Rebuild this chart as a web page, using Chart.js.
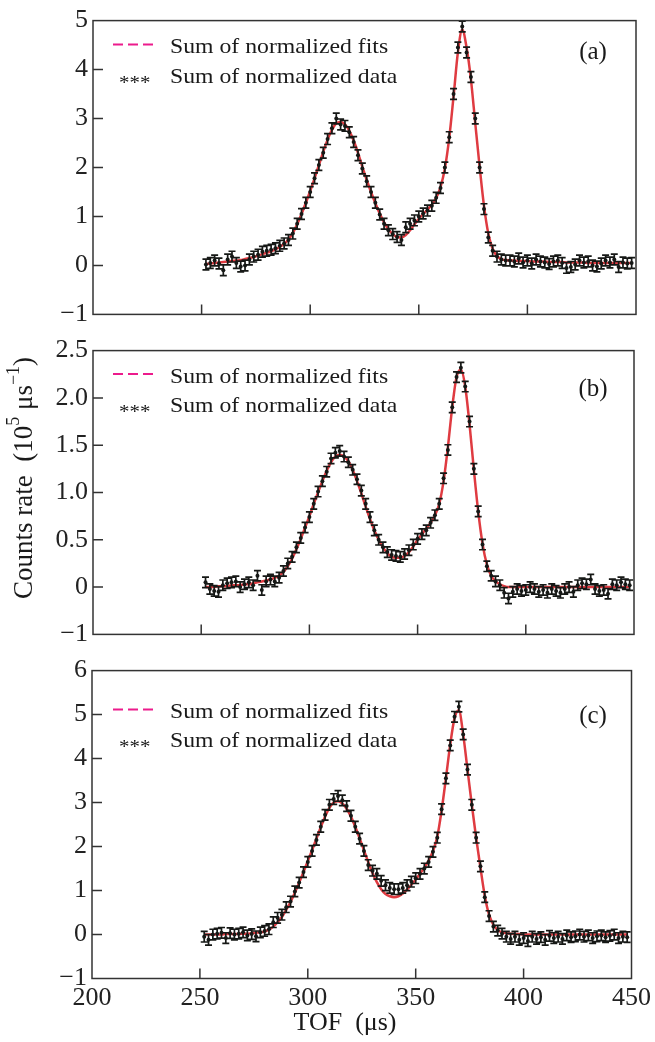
<!DOCTYPE html>
<html>
<head>
<meta charset="utf-8">
<title>TOF spectra</title>
<script src="https://cdn.jsdelivr.net/npm/chart.js@4.4.0/dist/chart.umd.min.js"></script>
<style>
    html, body { margin: 0; padding: 0; background: #fff; }
    body { width: 655px; height: 1042px; position: relative; overflow: hidden; }
    canvas { position: absolute; left: 0; }
</style>
</head>
<body>
<canvas id="chartA" width="655" height="335" style="top:0"></canvas>
<canvas id="chartB" width="655" height="325" style="top:330px"></canvas>
<canvas id="chartC" width="655" height="392" style="top:650px"></canvas>
<script>
// TOF channels (us)
const tof = [
    252, 254, 256, 258, 260, 262, 264, 266, 268, 270,
    272, 274, 276, 278, 280, 282, 284, 286, 288, 290,
    292, 294, 296, 298, 300, 302, 304, 306, 308, 310,
    312, 314, 316, 318, 320, 322, 324, 326, 328, 330,
    332, 334, 336, 338, 340, 342, 344, 346, 348, 350,
    352, 354, 356, 358, 360, 362, 364, 366, 368, 370,
    372, 374, 376, 378, 380, 382, 384, 386, 388, 390,
    392, 394, 396, 398, 400, 402, 404, 406, 408, 410,
    412, 414, 416, 418, 420, 422, 424, 426, 428, 430,
    432, 434, 436, 438, 440, 442, 444, 446, 448
];

// panel (a)
const countsA = [
    0.02, 0.05, 0.10, 0.04, -0.10, 0.12, 0.18, 0.05, -0.02, 0.00,
    0.12, 0.18, 0.22, 0.28, 0.30, 0.32, 0.35, 0.40, 0.45, 0.52,
    0.65, 0.85, 1.05, 1.28, 1.50, 1.78, 2.05, 2.30, 2.58, 2.80,
    3.00, 2.88, 2.85, 2.72, 2.52, 2.25, 1.98, 1.72, 1.50, 1.28,
    1.04, 0.85, 0.72, 0.64, 0.58, 0.52, 0.78, 0.85, 0.92, 1.00,
    1.06, 1.12, 1.22, 1.38, 1.58, 2.00, 2.62, 3.50, 4.45, 4.88,
    4.35, 3.85, 3.00, 2.00, 1.15, 0.57, 0.30, 0.18, 0.12, 0.10,
    0.10, 0.08, 0.14, 0.06, 0.10, 0.04, 0.12, 0.08, 0.06, 0.03,
    0.08, 0.10, 0.05, -0.05, -0.03, 0.02, 0.10, 0.06, 0.08, 0.00,
    -0.02, 0.04, 0.10, 0.06, 0.12, -0.03, 0.06, 0.04, 0.05
];
const fitA = [
    0.03, 0.04, 0.05, 0.06, 0.07, 0.08, 0.09, 0.10, 0.11, 0.13,
    0.15, 0.17, 0.20, 0.23, 0.26, 0.29, 0.33, 0.38, 0.44, 0.53,
    0.66, 0.84, 1.05, 1.28, 1.52, 1.78, 2.05, 2.32, 2.57, 2.77,
    2.90, 2.93, 2.88, 2.75, 2.55, 2.30, 2.02, 1.75, 1.50, 1.27,
    1.06, 0.88, 0.74, 0.64, 0.58, 0.57, 0.62, 0.72, 0.84, 0.95,
    1.05, 1.14, 1.24, 1.38, 1.60, 1.98, 2.60, 3.45, 4.35, 4.82,
    4.45, 3.80, 2.90, 2.02, 1.22, 0.65, 0.34, 0.19, 0.13, 0.11,
    0.10, 0.10, 0.09, 0.09, 0.09, 0.08, 0.08, 0.08, 0.08, 0.07,
    0.07, 0.07, 0.07, 0.06, 0.06, 0.06, 0.06, 0.06, 0.05, 0.05,
    0.05, 0.05, 0.05, 0.05, 0.05, 0.05, 0.05, 0.05, 0.05
];

// panel (b)
const countsB = [
    0.05, -0.02, -0.04, -0.05, 0.02, 0.04, 0.05, 0.06, 0.00, 0.03,
    0.05, 0.02, 0.12, -0.03, 0.06, 0.08, 0.06, 0.10, 0.17, 0.25,
    0.32, 0.42, 0.52, 0.63, 0.74, 0.88, 1.01, 1.12, 1.22, 1.36,
    1.42, 1.44, 1.38, 1.32, 1.24, 1.14, 1.02, 0.88, 0.74, 0.60,
    0.50, 0.42, 0.37, 0.34, 0.33, 0.32, 0.35, 0.39, 0.45, 0.51,
    0.56, 0.60, 0.68, 0.76, 0.88, 1.15, 1.45, 1.90, 2.22, 2.32,
    2.12, 1.75, 1.25, 0.80, 0.45, 0.22, 0.12, 0.06, 0.02, -0.06,
    -0.12, -0.05, -0.02, -0.04, -0.03, 0.00, -0.02, -0.05, -0.03, -0.06,
    -0.02, -0.04, -0.06, -0.02, 0.00, -0.05, 0.02, 0.04, 0.03, 0.08,
    -0.02, -0.04, -0.03, -0.07, 0.03, 0.02, 0.05, 0.03, 0.02
];
const fitB = [
    0.00, 0.00, 0.00, 0.01, 0.01, 0.01, 0.02, 0.02, 0.02, 0.03,
    0.03, 0.04, 0.05, 0.06, 0.07, 0.08, 0.10, 0.12, 0.16, 0.22,
    0.30, 0.40, 0.51, 0.63, 0.75, 0.88, 1.00, 1.12, 1.23, 1.32,
    1.38, 1.40, 1.38, 1.33, 1.24, 1.12, 0.99, 0.85, 0.72, 0.60,
    0.50, 0.42, 0.36, 0.32, 0.31, 0.31, 0.33, 0.37, 0.43, 0.50,
    0.56, 0.62, 0.68, 0.76, 0.88, 1.12, 1.48, 1.90, 2.22, 2.30,
    2.12, 1.72, 1.24, 0.80, 0.46, 0.24, 0.12, 0.06, 0.03, 0.01,
    0.00, 0.00, 0.00, 0.00, 0.00, 0.00, 0.00, 0.00, 0.00, 0.00,
    0.00, 0.00, 0.00, 0.00, 0.00, 0.00, 0.00, 0.00, 0.00, 0.00,
    0.00, 0.00, 0.00, 0.00, 0.00, 0.00, 0.00, 0.00, 0.00
];

// panel (c)
const countsC = [
    -0.05, -0.12, 0.00, 0.02, 0.04, -0.08, 0.03, 0.00, 0.02, 0.05,
    -0.02, 0.01, -0.04, 0.05, 0.08, 0.12, 0.28, 0.38, 0.45, 0.62,
    0.75, 0.98, 1.18, 1.42, 1.65, 1.90, 2.15, 2.45, 2.72, 2.95,
    3.08, 3.15, 3.05, 2.92, 2.70, 2.45, 2.18, 1.90, 1.58, 1.45,
    1.38, 1.22, 1.12, 1.06, 1.03, 1.03, 1.06, 1.12, 1.20, 1.28,
    1.38, 1.50, 1.65, 1.88, 2.20, 2.85, 3.55, 4.30, 4.95, 5.18,
    4.55, 3.75, 2.95, 2.20, 1.55, 0.85, 0.42, 0.18, 0.09, 0.02,
    -0.05, -0.10, -0.05, -0.12, -0.08, -0.15, -0.05, -0.10, -0.06, -0.12,
    -0.03, -0.08, -0.05, -0.10, -0.02, -0.06, -0.04, 0.00, -0.05, -0.02,
    -0.08, -0.04, -0.02, -0.06, -0.03, 0.00, -0.08, -0.05, -0.06
];
const fitC = [
    0.00, 0.00, 0.00, 0.00, 0.00, 0.01, 0.01, 0.01, 0.01, 0.02,
    0.02, 0.03, 0.04, 0.05, 0.07, 0.11, 0.18, 0.28, 0.40, 0.56,
    0.74, 0.95, 1.18, 1.42, 1.67, 1.92, 2.18, 2.44, 2.68, 2.88,
    3.00, 3.03, 2.98, 2.86, 2.68, 2.45, 2.19, 1.92, 1.65, 1.40,
    1.19, 1.03, 0.92, 0.87, 0.85, 0.87, 0.93, 1.02, 1.13, 1.25,
    1.38, 1.52, 1.68, 1.90, 2.22, 2.82, 3.55, 4.32, 4.92, 5.10,
    4.55, 3.75, 2.95, 2.20, 1.52, 0.88, 0.45, 0.22, 0.10, 0.05,
    0.03, 0.02, 0.01, 0.01, 0.00, 0.00, 0.00, 0.00, 0.00, 0.00,
    0.00, 0.00, 0.00, 0.00, 0.00, 0.00, 0.00, 0.00, 0.00, 0.00,
    0.00, 0.00, 0.00, 0.00, 0.00, 0.00, 0.00, 0.00, 0.00
];

// half-heights of the error bars
const errA = 0.11, errB = 0.055, errC = 0.12;

const yTicksA = ['\u22121', '0', '1', '2', '3', '4', '5'];
const yTicksB = ['\u22121', '0', '0.5', '1.0', '1.5', '2.0', '2.5'];   // bottom tick is printed as -1 in the original
const yTicksC = ['\u22121', '0', '1', '2', '3', '4', '5', '6'];
const xTickLabels = ['200', '250', '300', '350', '400', '450'];
const legendLabels = ['Sum of normalized fits', 'Sum of normalized data'];
const yTitleParts = [
    { text: 'Counts rate  (10', sup: false },
    { text: '5', sup: true },
    { text: ' \u03bcs', sup: false },
    { text: '\u22121', sup: true },
    { text: ')', sup: false }
];
const xTitle = 'TOF  (\u03bcs)';

const SERIF = '"Liberation Serif", "Times New Roman", serif';
const FIT_RED = 'rgba(220, 38, 44, 0.9)';
const LEGEND_PINK = '#ec1b8c';
const INK = '#161816';
const FRAME = '#333';

// box around the plot + inward tick marks on the left and bottom
const frame = {
    id: 'frame',
    afterDraw(chart) {
        const { ctx, chartArea: a, scales: { x, y } } = chart;
        ctx.save();
        ctx.strokeStyle = FRAME;
        ctx.lineWidth = 1.5;
        ctx.strokeRect(a.left, a.top, a.right - a.left, a.bottom - a.top);
        ctx.beginPath();
        y.ticks.forEach(t => {
            const py = y.getPixelForValue(t.value);
            if (py > a.top + 2 && py < a.bottom - 2) {
                ctx.moveTo(a.left, py);
                ctx.lineTo(a.left + 10, py);
            }
        });
        x.ticks.forEach(t => {
            const px = x.getPixelForValue(t.value);
            if (px > a.left + 2 && px < a.right - 2) {
                ctx.moveTo(px, a.bottom);
                ctx.lineTo(px, a.bottom - 10);
            }
        });
        ctx.stroke();
        ctx.restore();
    }
};

// vertical error bars with caps for the data dataset
const errorBars = {
    id: 'errorBars',
    afterDatasetsDraw(chart) {
        const { ctx, scales: { x, y } } = chart;
        const ds = chart.data.datasets[1];
        ctx.save();
        ctx.strokeStyle = INK;
        ctx.lineWidth = 1.7;
        ctx.beginPath();
        ds.data.forEach(p => {
            const px = x.getPixelForValue(p.x);
            const top = y.getPixelForValue(p.y + p.e);
            const bot = y.getPixelForValue(p.y - p.e);
            ctx.moveTo(px, top); ctx.lineTo(px, bot);
            ctx.moveTo(px - 3.5, top); ctx.lineTo(px + 3.5, top);
            ctx.moveTo(px - 3.5, bot); ctx.lineTo(px + 3.5, bot);
        });
        ctx.stroke();
        ctx.restore();
    }
};

function stretchedText(ctx, text, x, y, size, sx) {
    ctx.save();
    ctx.translate(x, y);
    ctx.scale(sx, 1);
    ctx.font = size + 'px ' + SERIF;
    ctx.fillText(text, 0, 0);
    ctx.restore();
}

// legend, panel tag and the shared axis titles
const deco = {
    id: 'deco',
    afterDraw(chart, args, o) {
        const { ctx, chartArea: a } = chart;
        const y0 = a.top + o.legendDy[0];
        const y1 = a.top + o.legendDy[1];
        ctx.save();
        ctx.strokeStyle = LEGEND_PINK;
        ctx.lineWidth = 2;
        ctx.setLineDash([10, 5]);
        ctx.beginPath();
        ctx.moveTo(113, y0);
        ctx.lineTo(157, y0);
        ctx.stroke();
        ctx.setLineDash([]);

        ctx.fillStyle = '#1a1a1a';
        ctx.textBaseline = 'middle';
        ctx.textAlign = 'left';
        stretchedText(ctx, legendLabels[0], 170, y0 + 3, 21, 1.13);
        stretchedText(ctx, legendLabels[1], 170, y1, 21, 1.13);
        ctx.textBaseline = 'alphabetic';
        stretchedText(ctx, '***', 119, y1 + 11, 19, 1.1);

        ctx.textBaseline = 'middle';
        ctx.textAlign = 'center';
        ctx.font = '25px ' + SERIF;
        ctx.fillText(o.tag, 593, a.top + o.tagDy);

        if (o.yTitle) {
            ctx.save();
            ctx.translate(25, 148);
            ctx.rotate(-Math.PI / 2);
            ctx.textAlign = 'left';
            ctx.textBaseline = 'middle';
            const widths = yTitleParts.map(p => {
                ctx.font = (p.sup ? 18 : 27) + 'px ' + SERIF;
                return ctx.measureText(p.text).width;
            });
            let cx = -widths.reduce((s, w) => s + w, 0) / 2;
            yTitleParts.forEach((p, i) => {
                ctx.font = (p.sup ? 18 : 27) + 'px ' + SERIF;
                ctx.fillText(p.text, cx, p.sup ? -11 : 0);
                cx += widths[i];
            });
            ctx.restore();
        }
        if (o.xTitle) {
            ctx.textAlign = 'center';
            ctx.textBaseline = 'middle';
            ctx.font = '26px ' + SERIF;
            ctx.fillText(xTitle, 345, 373);
        }
        ctx.restore();
    }
};

function makePanel(id, cfg) {
    const points = tof.map((t, i) => ({ x: t, y: cfg.counts[i], e: cfg.err }));
    const fitPoints = tof.map((t, i) => ({ x: t, y: cfg.fit[i] }));
    const tickFont = { family: SERIF, size: 26 };

    return new Chart(document.getElementById(id), {
        type: 'scatter',
        data: {
            datasets: [{
                type: 'line',
                data: fitPoints,
                borderColor: FIT_RED,
                borderWidth: 2.5,
                pointRadius: 0,
                tension: 0.3,
                cubicInterpolationMode: 'monotone',
                order: 2
            }, {
                data: points,
                pointRadius: 2,
                backgroundColor: INK,
                borderWidth: 0,
                order: 1
            }]
        },
        options: {
            responsive: false,
            animation: false,
            events: [],
            layout: { padding: cfg.pad },
            plugins: {
                legend: { display: false },
                tooltip: { enabled: false },
                deco: cfg.deco
            },
            scales: {
                x: {
                    type: 'linear', min: 200, max: 450,
                    grid: { display: false, drawTicks: false },
                    border: { display: false },
                    ticks: {
                        stepSize: 50, display: cfg.xLabels, padding: 4,
                        font: tickFont, color: '#222', maxRotation: 0,
                        callback: (v, i) => xTickLabels[i]
                    },
                    afterFit: s => { s.height = cfg.xHeight; }
                },
                y: {
                    min: cfg.yMin, max: cfg.yMax,
                    grid: { display: false, drawTicks: false },
                    border: { display: false },
                    ticks: {
                        stepSize: cfg.yStep, padding: 5,
                        font: tickFont, color: '#222',
                        callback: (v, i) => cfg.yLabels[i]
                    },
                    afterFit: s => { s.width = cfg.left; }
                }
            }
        },
        plugins: [frame, errorBars, deco]
    });
}

makePanel('chartA', {
    counts: countsA, fit: fitA, err: errA,
    yMin: -1, yMax: 5, yStep: 1, yLabels: yTicksA,
    left: 93, xHeight: 0, xLabels: false,
    pad: { top: 20, right: 19, bottom: 17.5, left: 0 },
    deco: { legendDy: [24, 57], tag: '(a)', tagDy: 32 }
});

makePanel('chartB', {
    counts: countsB, fit: fitB, err: errB,
    yMin: -0.5, yMax: 2.5, yStep: 0.5, yLabels: yTicksB,
    left: 93, xHeight: 0, xLabels: false,
    pad: { top: 19.5, right: 21, bottom: 19.5, left: 0 },
    deco: { legendDy: [23.5, 56], tag: '(b)', tagDy: 38.5, yTitle: true }
});

makePanel('chartC', {
    counts: countsC, fit: fitC, err: errC,
    yMin: -1, yMax: 6, yStep: 1, yLabels: yTicksC,
    left: 92, xHeight: 40, xLabels: true,
    pad: { top: 17, right: 23, bottom: 23.5, left: 0 },
    deco: { legendDy: [39, 71], tag: '(c)', tagDy: 46, xTitle: true }
});
</script>
</body>
</html>
